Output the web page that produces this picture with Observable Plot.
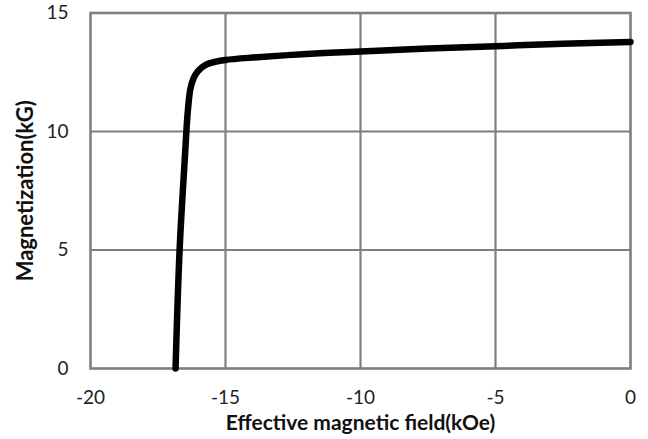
<!DOCTYPE html>
<html><head><meta charset="utf-8">
<script src="https://cdn.jsdelivr.net/npm/d3@7"></script>
<script src="https://cdn.jsdelivr.net/npm/@observablehq/plot@0.6"></script>
<style>body{margin:0;background:#fff;} svg{display:block;}</style>
</head><body><div id="chart"></div>
<script>
const field = [-16.85, -16.7, -16.5, -16.4, -16.3, -16.18, -16.02, -15.75, -15.35, -15, -14, -12, -10, -7.5, -5, -2.5, 0];
const magnetization = [0, 5, 9, 10.8, 11.8, 12.25, 12.55, 12.8, 12.95, 13.02, 13.12, 13.27, 13.38, 13.5, 13.6, 13.7, 13.78];
const xTicks = [-20, -15, -10, -5, 0];
const yTicks = [0, 5, 10, 15];
const xGrid = [-15, -10, -5];
const yGrid = [5, 10];
const xLabel = "Effective magnetic field(kOe)";
const yLabel = "Magnetization(kG)";

const data = field.map((x, i) => ({x, y: magnetization[i]}));
const font = "Lato, 'Open Sans', sans-serif";
const chart = Plot.plot({
  width: 648, height: 439,
  marginLeft: 90, marginRight: 18, marginTop: 12.5, marginBottom: 71,
  style: {fontFamily: font, background: "#fff", color: "#222"},
  x: {domain: [-20, 0]},
  y: {domain: [0, 15]},
  marks: [
    Plot.ruleX(xGrid, {stroke: "#7f7f7f", strokeWidth: 2.2}),
    Plot.ruleY(yGrid, {stroke: "#7f7f7f", strokeWidth: 2.2}),
    Plot.frame({stroke: "#7f7f7f", strokeWidth: 2.6}),
    Plot.axisX(xTicks, {tickSize: 0, tickPadding: 22, fontSize: 19, label: null, tickFormat: d => String(d)}),
    Plot.axisY(yTicks, {tickSize: 0, tickPadding: 22, fontSize: 19, label: null, tickFormat: d => String(d)}),
    Plot.line(data, {x: "x", y: "y", stroke: "#000", strokeWidth: 6.5, curve: "catmull-rom"}),
    Plot.text([xLabel], {text: d => d, frameAnchor: "bottom", lineAnchor: "bottom", textAnchor: "middle", dy: 61, fontSize: 21, fontWeight: "bold", fill: "#111", letterSpacing: "1.5px"}),
    Plot.text([yLabel], {text: d => d, frameAnchor: "left", textAnchor: "middle", dx: -65, rotate: -90, fontSize: 22, fontWeight: "bold", fill: "#111", letterSpacing: "1px"})
  ]
});
document.getElementById("chart").append(chart);
</script></body></html>
